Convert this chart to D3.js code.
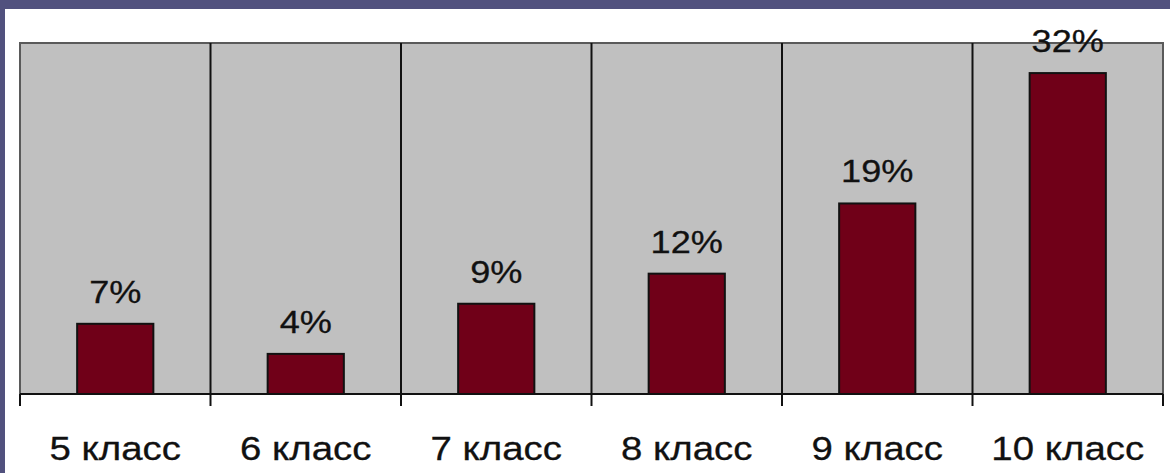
<!DOCTYPE html>
<html>
<head>
<meta charset="utf-8">
<script src="https://cdn.jsdelivr.net/npm/d3@7/dist/d3.min.js"></script>
<style>
html,body{margin:0;padding:0;background:#51517e;}
svg{display:block;}
</style>
</head>
<body>
<svg id="chart" width="1170" height="473"></svg>
<script>
const categories = ["5 класс","6 класс","7 класс","8 класс","9 класс","10 класс"];
const values = [7,4,9,12,19,32];
const valueLabels = ["7%","4%","9%","12%","19%","32%"];

const W = 1170, H = 473;
const svg = d3.select("#chart");
svg.append("rect").attr("x",0).attr("y",0).attr("width",W).attr("height",H).attr("fill","#51517e");
svg.append("rect").attr("x",5).attr("y",9).attr("width",W-5).attr("height",H-9).attr("fill","#ffffff");

const m = {left:20, right:1163, top:43, bottom:394};
const x = d3.scaleBand().domain(categories).range([m.left, m.right]).paddingInner(0).paddingOuter(0);
const y = d3.scaleLinear().domain([0,35]).range([m.bottom, m.top]);
const stretch = 1.13;

const g = svg.append("g");
g.append("rect").attr("x",m.left).attr("y",m.top).attr("width",m.right-m.left).attr("height",m.bottom-m.top)
  .attr("fill","#c0c0c0").attr("stroke","#5a5a5a").attr("stroke-width",2);

g.selectAll("line.grid").data(categories.slice(1)).enter().append("line")
  .attr("class","grid")
  .attr("x1",d=>x(d)).attr("x2",d=>x(d))
  .attr("y1",m.top).attr("y2",m.bottom)
  .attr("stroke","#111").attr("stroke-width",2);

const bw = x.bandwidth()*0.4;
g.selectAll("rect.bar").data(values).enter().append("rect")
  .attr("class","bar")
  .attr("x",(d,i)=>x(categories[i])+x.bandwidth()/2-bw/2)
  .attr("y",d=>y(d))
  .attr("width",bw)
  .attr("height",d=>y(0)-y(d))
  .attr("fill","#700018").attr("stroke","#111").attr("stroke-width",2);

g.selectAll("text.val").data(values).enter().append("text")
  .attr("class","val")
  .attr("transform",(d,i)=>`translate(${x(categories[i])+x.bandwidth()/2},${y(d)-21}) scale(${stretch},1)`)
  .attr("text-anchor","middle")
  .attr("font-family","'Liberation Sans', Arial, sans-serif")
  .attr("font-size",32)
  .attr("fill","#111")
  .attr("stroke","#111").attr("stroke-width",0.3)
  .text((d,i)=>valueLabels[i]);

const xAxis = d3.axisBottom(x).tickSize(0).tickPadding(0).tickFormat(d=>d);
const ax = svg.append("g").attr("transform",`translate(0,${m.bottom})`).call(xAxis);
ax.select(".domain").remove();
ax.selectAll(".tick line").remove();
ax.selectAll(".tick text")
  .attr("y",0).attr("dy",0)
  .attr("transform",`translate(0,66) scale(${stretch},1)`)
  .attr("font-family","'Liberation Sans', Arial, sans-serif")
  .attr("font-size",34)
  .attr("fill","#111")
  .attr("stroke","#111").attr("stroke-width",0.3);
svg.append("line").attr("x1",m.left).attr("x2",m.right).attr("y1",m.bottom).attr("y2",m.bottom)
  .attr("stroke","#111").attr("stroke-width",2);
const boundaries = x.domain().map(d=>x(d)).concat([m.right]);
svg.selectAll("line.tk").data(boundaries).enter().append("line")
  .attr("class","tk")
  .attr("x1",d=>d).attr("x2",d=>d).attr("y1",m.bottom).attr("y2",m.bottom+12)
  .attr("stroke","#111").attr("stroke-width",2);
</script>
</body>
</html>
